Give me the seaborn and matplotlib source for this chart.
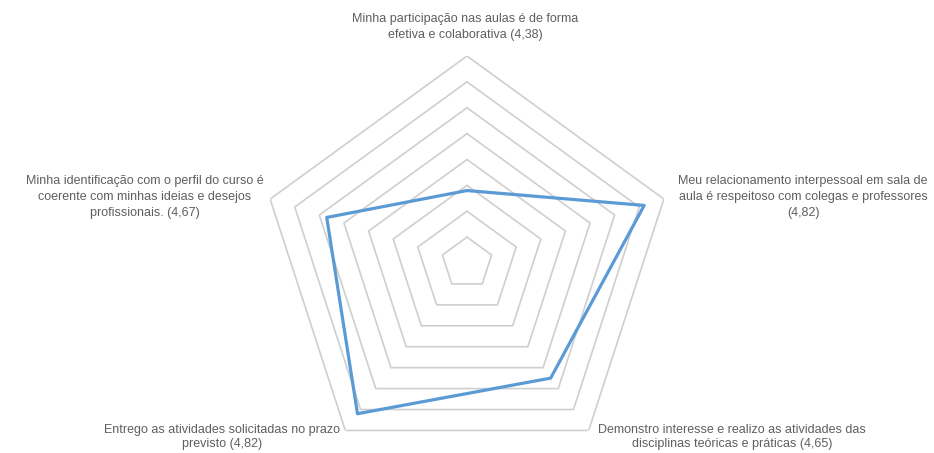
import numpy as np
import pandas as pd
import matplotlib
matplotlib.use("Agg")
import matplotlib.pyplot as plt
import seaborn as sns

categories = [
    "Minha participação nas aulas é de forma\nefetiva e colaborativa (4,38)",
    "Meu relacionamento interpessoal em sala de\naula é respeitoso com colegas e professores\n(4,82)",
    "Demonstro interesse e realizo as atividades das\ndisciplinas teóricas e práticas (4,65)",
    "Entrego as atividades solicitadas no prazo\nprevisto (4,82)",
    "Minha identificação com o perfil do curso é\ncoerente com minhas ideias e desejos\nprofissionais. (4,67)",
]
values = [4.38, 4.82, 4.65, 4.82, 4.67]
ring_levels = [4.2, 4.3, 4.4, 4.5, 4.6, 4.7, 4.8, 4.9]
r_min, r_max = 4.1, 4.9

sns.set_theme(style="white")
plt.rcParams['font.family'] = ['Liberation Sans', 'DejaVu Sans']

W, H = 934, 453
fig = plt.figure(figsize=(W / 100, H / 100), dpi=100)
cx, cy, R = 467, 263, 207
ax = fig.add_axes([(cx - R) / W, (H - cy - R) / H, 2 * R / W, 2 * R / H], projection="polar")
ax.set_theta_offset(np.pi / 2)
ax.set_theta_direction(-1)
ax.grid(False)
ax.spines["polar"].set_visible(False)
ax.patch.set_alpha(0)

n = len(values)
theta = np.linspace(0, 2 * np.pi, n, endpoint=False)
theta_c = np.append(theta, 2 * np.pi)

for lv in ring_levels:
    ax.plot(theta_c, [lv] * (n + 1), color="#cfcfcf", lw=1.2, zorder=1)

df = pd.DataFrame({"theta": theta_c, "value": values + [values[0]]})
sns.lineplot(data=df, x="theta", y="value", sort=False, estimator=None,
             ax=ax, color="#5b9bd5", lw=2.3, zorder=3)
ax.set_xlabel("")
ax.set_ylabel("")
ax.set_xticks([])
ax.set_yticks([])
ax.set_ylim(r_min, r_max)

label_pos = [(465, 27), (803, 197), (732, 437), (222, 437), (145, 197)]
label_ls = [1.45, 1.45, 1.3, 1.3, 1.45]
for (lx, ly), ls, txt in zip(label_pos, label_ls, categories):
    fig.text(lx / W, 1 - ly / H, txt, ha="center", va="center", fontsize=9,
             color="#5f5f5f", linespacing=ls)

fig.savefig("out.png", dpi=100)
